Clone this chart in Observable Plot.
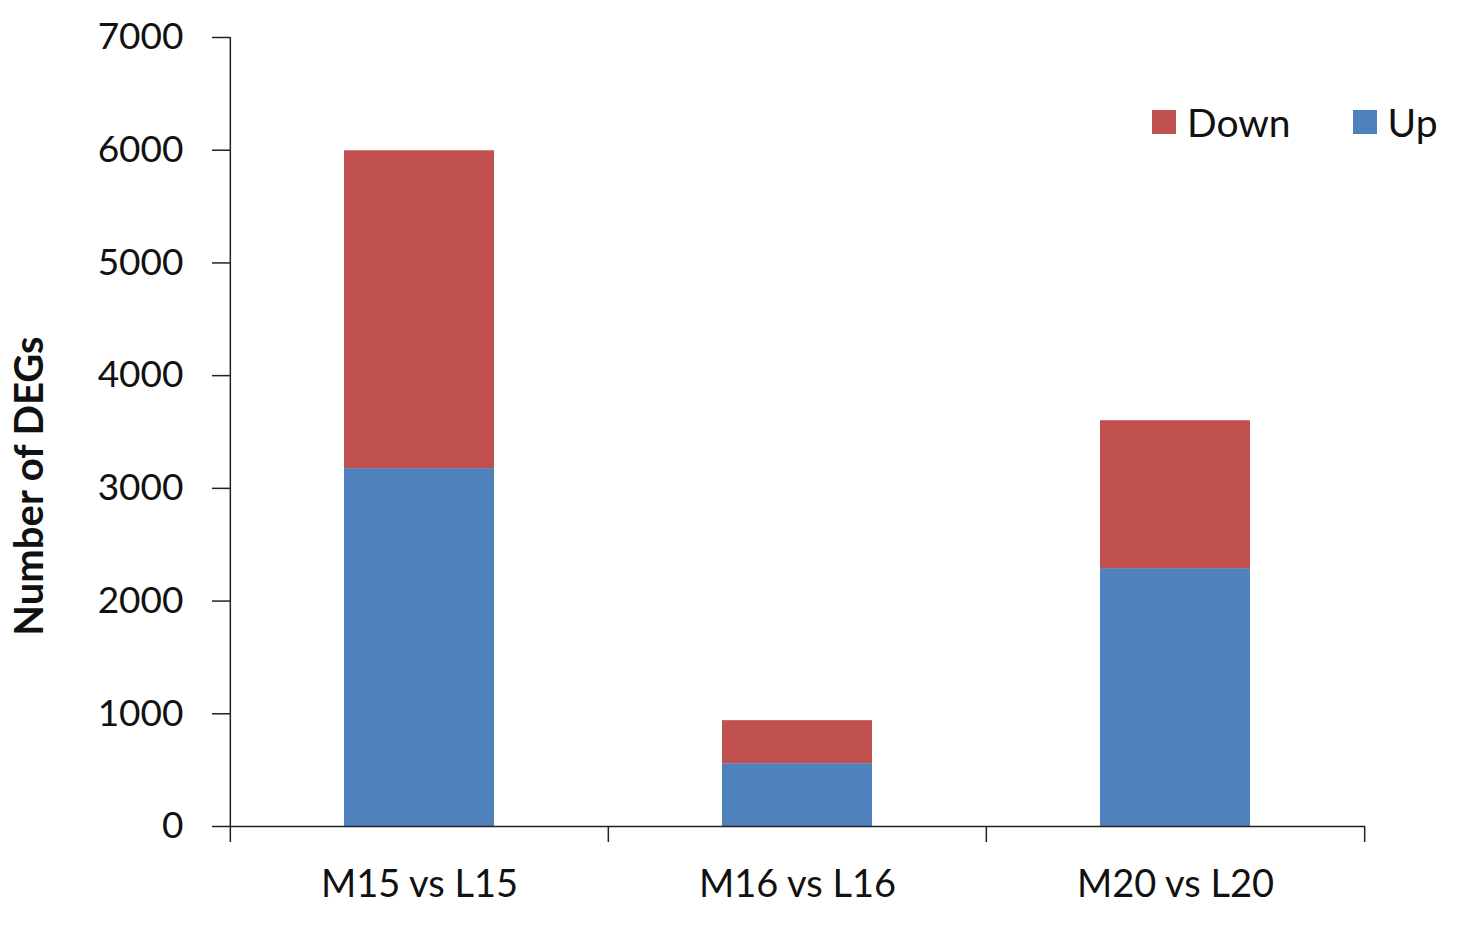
<!DOCTYPE html>
<html>
<head>
<meta charset="utf-8">
<script src="https://cdn.jsdelivr.net/npm/d3@7"></script>
<script src="https://cdn.jsdelivr.net/npm/@observablehq/plot@0.6"></script>
<style>
  html, body { margin: 0; padding: 0; background: #ffffff; }
  #chart { position: relative; width: 1460px; height: 928px; font-family: Lato, "Open Sans", sans-serif; }
  #legend { position: absolute; left: 1152px; top: 99px; display: flex; align-items: center; font-size: 39px; color: #111; }
  #legend .item { display: flex; align-items: center; }
  #legend .sw { width: 24px; height: 24px; margin-right: 11px; box-sizing: border-box; }
</style>
</head>
<body>
<div id="chart">
  <div id="legend"></div>
</div>
<script>
const categories = ["M15 vs L15", "M16 vs L16", "M20 vs L20"];
const upValues = [3175, 557, 2288];
const downValues = [2820, 382, 1312];
const seriesNames = ["Up", "Down"];
const seriesColors = ["#4F81BD", "#C0504D"];
const yTicks = [0, 1000, 2000, 3000, 4000, 5000, 6000, 7000];
const legendOrder = ["Down", "Up"];

const W = 1460, H = 928;
const mL = 230, mR = 95, mT = 37, mB = 102;
const step = (W - mL - mR) / categories.length;

const rows = [];
categories.forEach((c, i) => {
  rows.push({cat: c, series: "Up", value: upValues[i]});
  rows.push({cat: c, series: "Down", value: downValues[i]});
});

const chart = Plot.plot({
  width: W,
  height: H,
  marginLeft: mL,
  marginRight: mR,
  marginTop: mT,
  marginBottom: mB,
  style: {fontFamily: "Lato, 'Open Sans', sans-serif", background: "transparent", color: "#111"},
  x: {domain: categories, paddingInner: 0.603, paddingOuter: 0.3015, label: null},
  y: {domain: [0, 7000], label: null},
  color: {domain: seriesNames, range: seriesColors},
  marks: [
    Plot.barY(rows, Plot.stackY({x: "cat", y: "value", fill: "series", order: seriesNames})),
    Plot.ruleY([0], {stroke: "#222", strokeWidth: 1.5}),
    Plot.ruleX([categories[0]], {x: d => d, dx: -step / 2, y1: 7000, y2: 0, insetBottom: -16, stroke: "#222", strokeWidth: 1.5}),
    Plot.ruleX(categories.slice(1), {x: d => d, dx: -step / 2, y1: 0, y2: 0, insetBottom: -16, stroke: "#222", strokeWidth: 1.5}),
    Plot.ruleX([categories[categories.length - 1]], {x: d => d, dx: step / 2, y1: 0, y2: 0, insetBottom: -16, stroke: "#222", strokeWidth: 1.5}),
    Plot.axisY({ticks: yTicks, tickSize: 18, tickPadding: 29, fontSize: 37, stroke: "#222", strokeWidth: 1.5, label: null, tickFormat: d => String(d)}),
    Plot.axisX({tickSize: 0, tickPadding: 44, fontSize: 38, label: null}),
    Plot.text(["Number of DEGs"], {frameAnchor: "left", dx: -mL + 30, dy: 54, rotate: -90, textAnchor: "middle", fontSize: 40, fontWeight: "bold", fill: "#111"})
  ]
});

document.getElementById("chart").prepend(chart);

const legend = document.getElementById("legend");
legendOrder.forEach((name, i) => {
  const item = document.createElement("div");
  item.className = "item";
  if (i > 0) item.style.marginLeft = "62px";
  const sw = document.createElement("div");
  sw.className = "sw";
  sw.style.background = seriesColors[seriesNames.indexOf(name)];
  const t = document.createElement("span");
  t.textContent = name;
  item.appendChild(sw);
  item.appendChild(t);
  legend.appendChild(item);
});
</script>
</body>
</html>
